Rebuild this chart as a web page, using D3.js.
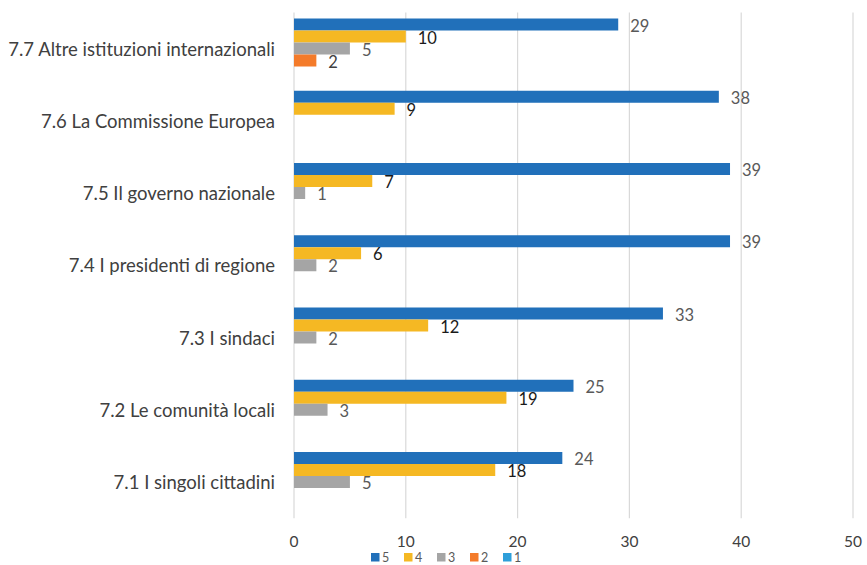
<!DOCTYPE html>
<html>
<head>
<meta charset="utf-8">
<script src="https://cdn.jsdelivr.net/npm/d3@7"></script>
<style>
  body { margin: 0; background: #fff; }
  svg { display: block; font-family: Lato, "Liberation Sans", Arial, sans-serif; }
</style>
</head>
<body>
<svg id="chart" width="867" height="565"></svg>
<script>
// Categories, top to bottom
const categories = [
  "7.7 Altre istituzioni internazionali",
  "7.6 La Commissione Europea",
  "7.5 Il governo nazionale ",
  "7.4 I presidenti di regione",
  "7.3 I sindaci",
  "7.2 Le comunità locali",
  "7.1 I singoli cittadini"
];
const seriesNames = ["5", "4", "3", "2", "1"];
const values5 = [29, 38, 39, 39, 33, 25, 24];
const values4 = [10, 9, 7, 6, 12, 19, 18];
const values3 = [5, 0, 1, 2, 2, 3, 5];
const values2 = [2, 0, 0, 0, 0, 0, 0];
const values1 = [0, 0, 0, 0, 0, 0, 0];
const xTicks = [0, 10, 20, 30, 40, 50];
const colors = ["#2170BA", "#F5B823", "#A5A5A5", "#F47B2A", "#2E9FDA"];
const labelColors = ["#595959", "#1a1a1a", "#595959", "#404040", "#595959"];

const seriesValues = [values5, values4, values3, values2, values1];

const svg = d3.select("#chart");
const plotTop = 12.5, bandH = 72.25;

const x = d3.scaleLinear().domain([0, 50]).range([294, 853]);
const y = d3.scaleBand().domain(categories).range([plotTop, plotTop + categories.length * bandH]);
const inner = d3.scaleBand().domain(seriesNames).range([6, 66]);

// Vertical gridlines
svg.append("g")
  .selectAll("line")
  .data(xTicks)
  .join("line")
  .attr("x1", d => x(d)).attr("x2", d => x(d))
  .attr("y1", plotTop).attr("y2", plotTop + categories.length * bandH)
  .attr("stroke", "#d9d9d9").attr("stroke-width", 1.2);

// Bars with value labels (zero values are left out)
const groups = svg.append("g")
  .selectAll("g")
  .data(categories)
  .join("g")
  .attr("transform", d => `translate(0,${y(d)})`);

groups.each(function(cat, ci) {
  const g = d3.select(this);
  seriesNames.forEach((s, si) => {
    const v = seriesValues[si][ci];
    if (v <= 0) return;
    g.append("rect")
      .attr("x", x(0))
      .attr("y", inner(s))
      .attr("width", x(v) - x(0))
      .attr("height", inner.bandwidth())
      .attr("fill", colors[si]);
    g.append("text")
      .attr("x", x(v) + 12)
      .attr("y", inner(s) + inner.bandwidth() / 2 + 1)
      .attr("dominant-baseline", "central")
      .attr("font-size", 16.5)
      .attr("fill", labelColors[si])
      .text(v);
  });
});

// Category labels
svg.append("g")
  .selectAll("text")
  .data(categories)
  .join("text")
  .attr("x", 275)
  .attr("y", d => y(d) + y.bandwidth() / 2)
  .attr("text-anchor", "end")
  .attr("dominant-baseline", "central")
  .attr("font-size", 18.5)
  .attr("fill", "#404040")
  .text(d => d);

// X axis tick labels
svg.append("g")
  .selectAll("text")
  .data(xTicks)
  .join("text")
  .attr("x", d => x(d))
  .attr("y", 540.5)
  .attr("text-anchor", "middle")
  .attr("dominant-baseline", "central")
  .attr("font-size", 15.5)
  .attr("fill", "#404040")
  .text(d => d);

// Legend
const legend = svg.append("g")
  .selectAll("g")
  .data(seriesNames)
  .join("g")
  .attr("transform", (d, i) => `translate(${371 + i * 33},557.5)`);
legend.append("rect")
  .attr("x", 0).attr("y", -4.5)
  .attr("width", 8.5).attr("height", 8.5)
  .attr("fill", (d, i) => colors[i]);
legend.append("text")
  .attr("x", 11).attr("y", 0)
  .attr("dominant-baseline", "central")
  .attr("font-size", 12.5)
  .attr("fill", "#595959")
  .text(d => d);
</script>
</body>
</html>
